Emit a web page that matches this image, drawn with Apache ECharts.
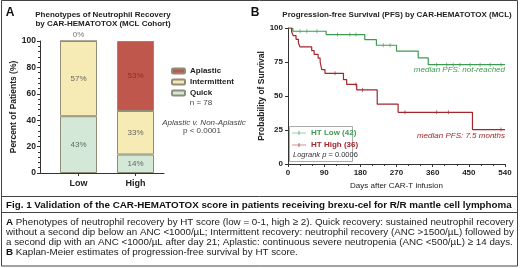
<!DOCTYPE html>
<html>
<head>
<meta charset="utf-8">
<script src="https://cdn.jsdelivr.net/npm/echarts@6/dist/echarts.min.js"></script>
<style>
  html, body { margin: 0; padding: 0; background: #fff; }
  #main { width: 520px; height: 268px; }
</style>
</head>
<body>
<div id="main"></div>
<script>
// panel A: neutrophil recovery phenotypes (percent of patients)
const groups = ['Low', 'High'];
const quick = [43, 14];
const intermittent = [57, 33];
const aplastic = [0, 53];

// panel B: Kaplan-Meier PFS, days and survival after each step
const lowDays = [0, 12, 95, 191, 220, 270, 324, 349, 540];
const lowSurv = [100, 97.6, 95.2, 91.5, 87.3, 83, 78, 73, 73];
const highDays = [0, 9, 13, 20, 26, 30, 59, 65, 75, 80, 84, 92, 138, 146, 171, 222, 274, 459, 540];
const highSurv = [100, 97.2, 94.4, 91.7, 88.9, 86.1, 83.3, 80.6, 77.8, 75, 69.4, 66.7, 62, 58.5, 54.5, 44, 38, 25.3, 25.3];
const lowCensor = [30, 47, 72, 123, 154, 169, 237, 254, 370, 395, 411, 428, 453, 478, 503, 530];
const highCensor = [117, 169, 185, 291, 370, 399, 530];

const FONT = 'Liberation Sans, Arial, sans-serif';
const GREEN = '#3f9a52';
const RED = '#a3262c';
// legend icon: short line with a tick in the middle
const KM_ICON = 'path://M0,4.5h20v1h-20z M9.5,2h1v6h-1z';

function toPairs(xs, ys) {
    return xs.map(function (x, i) { return [x, ys[i]]; });
}
// survival level of a curve at a given day (for censor ticks)
function levelAt(xs, ys, day) {
    let v = ys[0];
    for (let i = 0; i < xs.length; i++) {
        if (xs[i] <= day) v = ys[i];
    }
    return v;
}

const chart = echarts.init(document.getElementById('main'), null, { renderer: 'canvas' });

function txt(text, x, y, opts) {
    return {
        type: 'text', z: 10,
        style: Object.assign({
            text: text, x: x, y: y,
            fill: '#222', align: 'center', verticalAlign: 'middle',
            fontFamily: FONT, fontSize: 8
        }, opts || {})
    };
}

const barLabel = { show: true, position: 'inside', color: '#666', fontSize: 8, fontFamily: FONT,
    formatter: function (p) { return p.value + '%'; } };
const barBorder = { borderColor: '#8f8c78', borderWidth: 1 };
const capRich = { b: { fontWeight: 'bold', fontSize: 9.8, fontFamily: FONT, fill: '#111' } };

var option = {
    animation: false,
    backgroundColor: '#fff',
    textStyle: { fontFamily: FONT },
    grid: [
        { left: 50, top: 41, width: 114, height: 132 },
        { left: 288, top: 28, width: 217, height: 136 }
    ],
    xAxis: [{
        gridIndex: 0,
        type: 'category',
        data: groups,
        axisLine: { lineStyle: { color: '#333', width: 1 } },
        axisTick: { show: true, alignWithLabel: true, length: 3, lineStyle: { color: '#333' } },
        axisLabel: { color: '#222', fontWeight: 'bold', fontSize: 9, margin: 6 }
    }, {
        gridIndex: 1,
        type: 'value',
        min: 0, max: 540, interval: 90,
        name: 'Days after CAR-T infusion',
        nameLocation: 'middle', nameGap: 16,
        nameTextStyle: { color: '#222', fontSize: 8 },
        axisLine: { lineStyle: { color: '#333', width: 1 } },
        axisTick: { show: true, length: 3, lineStyle: { color: '#333' } },
        minorTick: { show: true, splitNumber: 3, length: 2, lineStyle: { color: '#333' } },
        splitLine: { show: false },
        axisLabel: { color: '#222', fontWeight: 'bold', fontSize: 8, margin: 5 }
    }],
    yAxis: [{
        gridIndex: 0,
        type: 'value',
        min: 0, max: 100, interval: 20,
        offset: 10,
        name: 'Percent of Patients (%)',
        nameLocation: 'middle', nameGap: 20,
        nameTextStyle: { color: '#222', fontWeight: 'bold', fontSize: 8.5 },
        axisLine: { show: true, lineStyle: { color: '#333', width: 1 } },
        axisTick: { show: true, length: 3, lineStyle: { color: '#333' } },
        minorTick: { show: true, splitNumber: 5, length: 2, lineStyle: { color: '#333' } },
        splitLine: { show: false },
        axisLabel: { color: '#222', fontWeight: 'bold', fontSize: 8.5, margin: 4 }
    }, {
        gridIndex: 1,
        type: 'value',
        min: 0, max: 100, interval: 25,
        name: 'Probability of Survival',
        nameLocation: 'middle', nameGap: 20,
        nameTextStyle: { color: '#222', fontWeight: 'bold', fontSize: 8.5 },
        axisLine: { show: true, lineStyle: { color: '#333', width: 1 } },
        axisTick: { show: true, length: 3, lineStyle: { color: '#333' } },
        splitLine: { show: false },
        axisLabel: { color: '#222', fontWeight: 'bold', fontSize: 8, margin: 5 }
    }],
    legend: [{
        data: ['Aplastic', 'Intermittent', 'Quick'],
        orient: 'vertical',
        left: 171, top: 67, padding: 0,
        itemWidth: 13, itemHeight: 5, itemGap: 3,
        textStyle: { color: '#222', fontWeight: 'bold', fontSize: 8 }
    }, {
        data: [
            { name: 'HT Low (42)', textStyle: { color: GREEN } },
            { name: 'HT High (36)', textStyle: { color: RED } }
        ],
        orient: 'vertical',
        left: 292, top: 129, padding: 0,
        icon: KM_ICON,
        itemWidth: 14, itemHeight: 6, itemGap: 4,
        z: 20,
        textStyle: { fontWeight: 'bold', fontSize: 8 }
    }],
    series: [{
        name: 'Quick', type: 'bar', stack: 'a', xAxisIndex: 0, yAxisIndex: 0,
        barWidth: 37,
        data: quick,
        itemStyle: Object.assign({ color: '#d4e8d8' }, barBorder),
        label: barLabel
    }, {
        name: 'Intermittent', type: 'bar', stack: 'a', xAxisIndex: 0, yAxisIndex: 0,
        data: intermittent,
        itemStyle: Object.assign({ color: '#f6eab5' }, barBorder),
        label: barLabel
    }, {
        name: 'Aplastic', type: 'bar', stack: 'a', xAxisIndex: 0, yAxisIndex: 0,
        data: aplastic.map(function (v) {
            return v === 0 ? { value: v, label: { position: 'top', distance: 2, color: '#777' } } : v;
        }),
        itemStyle: Object.assign({ color: '#c0574c' }, barBorder),
        label: Object.assign({}, barLabel, { color: '#8a2f28' })
    }, {
        name: 'HT Low (42)', type: 'line', xAxisIndex: 1, yAxisIndex: 1,
        step: 'end', symbol: 'none',
        data: toPairs(lowDays, lowSurv),
        lineStyle: { color: GREEN, width: 1.2 },
        itemStyle: { color: GREEN }
    }, {
        name: 'HT High (36)', type: 'line', xAxisIndex: 1, yAxisIndex: 1,
        step: 'end', symbol: 'none',
        data: toPairs(highDays, highSurv),
        lineStyle: { color: RED, width: 1.2 },
        itemStyle: { color: RED }
    }, {
        name: 'low censored', type: 'scatter', xAxisIndex: 1, yAxisIndex: 1,
        symbol: 'rect', symbolSize: [0.8, 4],
        data: lowCensor.map(function (d) { return [d, levelAt(lowDays, lowSurv, d)]; }),
        itemStyle: { color: GREEN }
    }, {
        name: 'high censored', type: 'scatter', xAxisIndex: 1, yAxisIndex: 1,
        symbol: 'rect', symbolSize: [0.8, 4],
        data: highCensor.map(function (d) { return [d, levelAt(highDays, highSurv, d)]; }),
        itemStyle: { color: RED }
    }],
    graphic: [
        // figure frame and caption rules
        { type: 'rect', shape: { x: 1.5, y: 0.5, width: 516, height: 265.5 },
          style: { fill: null, stroke: '#444', lineWidth: 1 }, z: 1 },
        { type: 'line', shape: { x1: 1.5, y1: 196.5, x2: 517.5, y2: 196.5 },
          style: { stroke: '#444', lineWidth: 1 }, z: 1 },
        { type: 'line', shape: { x1: 1.5, y1: 212.5, x2: 517.5, y2: 212.5 },
          style: { stroke: '#444', lineWidth: 1 }, z: 1 },
        // x axis line of panel A runs to the y axis
        { type: 'line', shape: { x1: 40, y1: 173.5, x2: 50, y2: 173.5 },
          style: { stroke: '#333', lineWidth: 1 }, z: 1 },
        // legend box panel B
        { type: 'rect', shape: { x: 289.5, y: 126.5, width: 63, height: 35 },
          style: { fill: '#fff', stroke: '#aaa', lineWidth: 1 }, z: 2 },

        txt('A', 10, 13, { fontWeight: 'bold', fontSize: 12, fill: '#111' }),
        txt('Phenotypes of Neutrophil Recovery', 103, 15, { fontWeight: 'bold', fontSize: 8 }),
        txt('by CAR-HEMATOTOX (MCL Cohort)', 103, 24, { fontWeight: 'bold', fontSize: 8 }),
        txt('n = 78', 201, 103, { fill: '#444' }),
        txt('Aplastic v. Non-Aplastic', 204, 123, { fill: '#444', fontStyle: 'italic' }),
        txt('p < 0.0001', 202, 131, { fill: '#444' }),

        txt('B', 255, 13, { fontWeight: 'bold', fontSize: 12, fill: '#111' }),
        txt('Progression-free Survival (PFS) by CAR-HEMATOTOX (MCL)', 397, 15, { fontWeight: 'bold', fontSize: 8 }),
        txt('median PFS: not-reached', 505, 70, { fill: GREEN, fontStyle: 'italic', align: 'right' }),
        txt('median PFS: 7.5 months', 505, 136, { fill: RED, fontStyle: 'italic', align: 'right' }),
        txt('{i|Logrank p} = 0.0006', 293, 155, { fill: '#333', align: 'left', fontSize: 7.5,
            rich: { i: { fontStyle: 'italic', fontSize: 7.5, fill: '#333', fontFamily: FONT } } }),

        txt('Fig. 1 Validation of the CAR-HEMATOTOX score in patients receiving brexu-cel for R/R mantle cell lymphoma',
            6, 205, { fontWeight: 'bold', fontSize: 9.8, align: 'left', fill: '#111' }),
        txt('{b|A} Phenotypes of neutrophil recovery by HT score (low = 0-1, high \u2265 2). Quick recovery: sustained neutrophil recovery',
            6, 222, { fontSize: 9.8, align: 'left', fill: '#222', rich: capRich }),
        txt('without a second dip below an ANC <1000/\u00b5L; Intermittent recovery: neutrophil recovery (ANC >1500/\u00b5L) followed by',
            6, 232, { fontSize: 9.8, align: 'left', fill: '#222' }),
        txt('a second dip with an ANC <1000/\u00b5L after day 21; Aplastic: continuous severe neutropenia (ANC <500/\u00b5L) \u2265 14 days.',
            6, 242, { fontSize: 9.8, align: 'left', fill: '#222' }),
        txt('{b|B} Kaplan-Meier estimates of progression-free survival by HT score.',
            6, 252, { fontSize: 9.8, align: 'left', fill: '#222', rich: capRich })
    ]
};

chart.setOption(option);
</script>
</body>
</html>
